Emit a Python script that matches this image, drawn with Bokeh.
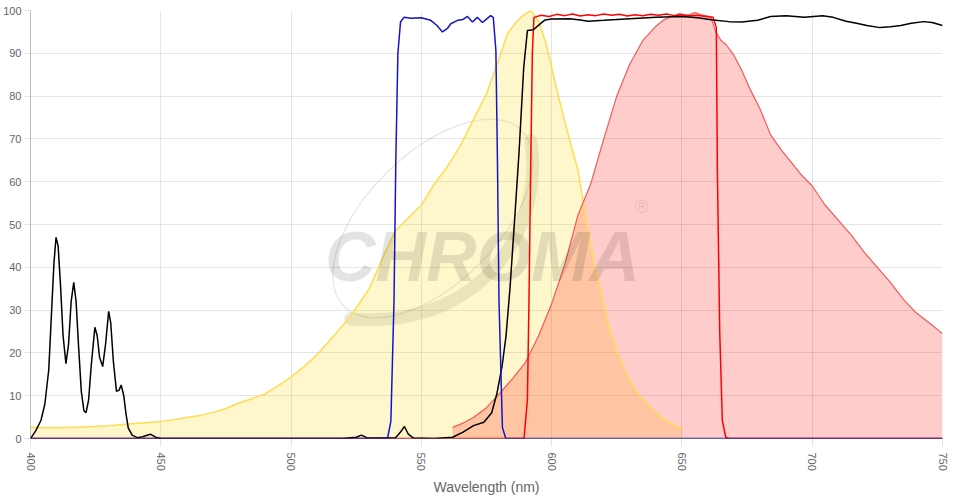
from bokeh.plotting import figure
from bokeh.models import Range1d, FixedTicker, Label
from bokeh.embed import file_html
from bokeh.resources import INLINE

# ---------------- data ----------------
x_ticks = [400, 450, 500, 550, 600, 650, 700, 750]
y_ticks = [0, 10, 20, 30, 40, 50, 60, 70, 80, 90, 100]

# excitation spectrum (yellow)
ex_wl = [400, 405, 410, 420, 430, 440, 450, 455, 460, 465, 470, 475, 480, 485, 490,
         495, 500, 505, 510, 515, 520, 525, 530, 535, 540, 545, 550, 555, 560, 565,
         570, 575, 580, 583, 586, 589, 592, 595, 598, 601, 604, 607, 610, 613, 616,
         619, 622, 625, 628, 631, 634, 637, 640, 643, 646, 650]
ex_val = [2.6, 2.5, 2.5, 2.7, 3.0, 3.5, 4.0, 4.4, 4.9, 5.4, 6.1, 7.0, 8.3, 9.3, 10.4,
          12.3, 14.4, 16.8, 19.6, 23.0, 26.5, 30.5, 35.0, 42.0, 48.5, 51.5, 54.5, 59.5, 63.5, 68.5,
          74.5, 80.5, 89.0, 94.5, 97.0, 98.8, 100.0, 97.5, 92.0, 84.0, 76.5, 69.5, 63.0, 52.0, 42.0,
          34.0, 26.0, 20.5, 16.0, 12.5, 9.8, 7.8, 6.0, 4.6, 3.4, 2.3]

# emission spectrum (red / pink)
em_wl = [562, 566, 570, 575, 580, 585, 590, 595, 600, 605, 610, 615, 620, 625, 630,
         635, 640, 643, 646, 649, 652, 655, 658, 661, 663, 665, 667, 670, 673, 676,
         680, 684, 688, 692, 696, 700, 705, 710, 715, 720, 725, 730, 735, 740, 745, 750]
em_val = [2.6, 3.6, 4.9, 7.2, 10.5, 14.0, 17.8, 24.0, 31.5, 40.5, 52.0, 59.5, 70.0, 80.0, 87.5,
          93.0, 96.3, 97.8, 98.6, 99.3, 98.8, 99.5, 98.9, 98.6, 95.0, 93.0, 92.0, 89.5, 86.0, 81.8,
          77.0, 71.0, 67.5, 64.5, 61.5, 59.0, 54.5, 51.0, 47.5, 43.5, 40.0, 36.5, 32.5, 29.3, 27.0, 24.5]

# dichroic / black curve
bk_wl = [400, 402, 404, 405.5, 407, 408.2, 409, 409.8, 410.6, 411.5, 412.5, 413.6, 414.6, 415.6, 416.6,
         417.5, 418.5, 419.5, 420.5, 421.3, 422.3, 423.3, 424.7, 425.6, 426.5, 427.7, 428.8, 430, 430.8, 431.8,
         433, 434, 434.8, 435.8, 436.6, 437.5, 439, 441, 443, 446, 448, 450, 520, 525, 527,
         529, 540, 542, 543.5, 545, 547, 555, 562, 566, 570, 574, 577, 579, 581, 582.5,
         584, 586, 587.5, 589.3, 590.7, 593, 595.8, 597.5, 600, 607, 611, 614, 620, 630, 640,
         650, 656, 662, 668, 673, 679, 684, 690, 697, 704, 708, 713, 717, 721, 726,
         730, 734, 738, 742.8, 746, 750]
bk_val = [0, 1.8, 4.2, 8, 16, 31, 41, 47, 45, 36, 24, 17.5, 22, 32, 36.5,
          32, 21, 11, 6.5, 6, 9, 17, 26, 24, 19, 16.8, 22, 29.7, 27, 18,
          11, 11.3, 12.5, 10, 6, 2.5, 0.8, 0.2, 0.4, 1.0, 0.3, 0, 0, 0.3, 0.8,
          0.2, 0.1, 1.5, 2.8, 1.0, 0.1, 0, 0.3, 1.5, 3, 3.8, 6, 10.5, 17, 24,
          35, 53, 67, 86.8, 95.3, 95.5, 97, 97.8, 98, 98.1, 97.8, 97.5, 97.7, 98.1, 98.4,
          98.6, 98.3, 97.8, 97.4, 97.3, 97.7, 98.6, 98.8, 98.4, 98.8, 98.4, 97.5, 97, 96.5, 96,
          96.2, 96.5, 97, 97.4, 97.2, 96.5]

# excitation filter (blue)
bf_wl = [400, 537, 538.3, 539.5, 540.2, 541, 542, 543.3, 546, 550, 553.6, 556, 558.1, 560, 561.3,
         563.9, 566, 567.7, 569.6, 571.5, 573.4, 575, 576.6, 577.6, 578.6, 579.2, 579.8, 581.1, 582.4, 750]
bf_val = [0, 0, 4, 32, 65, 90, 97.3, 98.4, 98.2, 98.3, 97.7, 96.5, 95, 95.8, 96.9,
          97.7, 97.9, 98.6, 97.3, 98.4, 97.2, 98, 98.8, 98.4, 90.7, 65, 32, 2.6, 0, 0]

# emission filter (red)
rf_wl = [400, 589.4, 590.7, 591.3, 592, 592.6, 593.2, 596, 599, 602, 605, 608, 611, 614, 617,
         620, 623, 626, 629, 632, 635, 638, 641, 644, 647, 650, 653, 656, 659, 662,
         663.2, 663.6, 664.5, 665.5, 666.8, 668, 750]
rf_val = [0, 0, 9, 32, 65, 90, 98.4, 98.9, 98.6, 99.1, 98.8, 99.2, 98.7, 99.0, 98.8,
          99.2, 98.9, 99.1, 98.7, 99.0, 98.8, 99.1, 98.9, 99.2, 98.8, 99.0, 98.8, 98.9, 98.6, 98.4,
          96, 63, 25, 4.2, 0.3, 0, 0]

x_title = "Wavelength (nm)"
logo_text = "CHROMA"

# ---------------- figure ----------------
p = figure(width=949, height=497, x_range=Range1d(400, 750), y_range=Range1d(0, 100),
           output_backend="svg", toolbar_location=None,
           min_border_left=0, min_border_right=7, min_border_top=10, min_border_bottom=0)
p.outline_line_color = None
p.background_fill_color = "white"
p.border_fill_color = "white"

# watermark (decorative)
p.ellipse(x=[554.4], y=[51.4], width=[250], height=[130], angle=[0.78],
          width_units="screen", height_units="screen",
          fill_color=None, line_color="#000000", line_alpha=0.09, line_width=1.5)
p.bezier(x0=[522.9], y0=[28.0], x1=[592.0], y1=[69.6], cx0=[569.0], cy0=[25.2],
         cx1=[597.7], cy1=[46.7], line_color="#000000", line_alpha=0.09, line_width=13,
         line_cap="round")
p.add_layout(Label(x=513, y=42.3, text=logo_text, text_font="Liberation Sans",
                   text_font_size="70px", text_font_style="bold italic",
                   text_color="#000000", text_alpha=0.11, text_baseline="alphabetic"))
p.add_layout(Label(x=632, y=54, text="\u00ae", text_font="Liberation Sans",
                   text_font_size="18px", text_color="#000000", text_alpha=0.11,
                   text_baseline="middle"))

# fills
p.varea(x=ex_wl, y1=0, y2=ex_val, fill_color="#ffd700", fill_alpha=0.2)
p.varea(x=em_wl, y1=0, y2=em_val, fill_color="#ff0000", fill_alpha=0.2)

# lines
p.line(ex_wl, ex_val, line_color="#ffdc50", line_width=1.5)
p.line(em_wl, em_val, line_color="#f05a5a", line_width=1.2)
p.line(rf_wl, rf_val, line_color="#ff0000", line_width=1.5)
p.line(bk_wl, bk_val, line_color="#000000", line_width=1.5)
p.line(bf_wl, bf_val, line_color="#1414cc", line_width=1.5)

# axes
for ax in (p.xaxis[0], p.yaxis[0]):
    ax.major_label_text_font = "Liberation Sans"
    ax.major_label_text_font_size = "11px"
    ax.major_label_text_color = "#666666"
    ax.minor_tick_line_color = None
    ax.major_tick_line_color = "#000000"
    ax.major_tick_line_alpha = 0.1
    ax.major_tick_in = 0
    ax.axis_line_color = "#000000"
    ax.axis_line_alpha = 0.25

p.xaxis.ticker = FixedTicker(ticks=x_ticks)
p.yaxis.ticker = FixedTicker(ticks=y_ticks)
p.xaxis.major_label_orientation = "vertical"
p.xaxis.major_tick_out = 8
p.xaxis.major_label_standoff = 6
p.yaxis.major_tick_out = 6
p.yaxis.major_label_standoff = 3

p.xaxis.axis_label = x_title
p.xaxis.axis_label_text_font = "Liberation Sans"
p.xaxis.axis_label_text_font_size = "14px"
p.xaxis.axis_label_text_font_style = "normal"
p.xaxis.axis_label_text_color = "#666666"
p.xaxis.axis_label_standoff = 5

p.xgrid.ticker = FixedTicker(ticks=x_ticks)
p.ygrid.ticker = FixedTicker(ticks=y_ticks)
p.grid.grid_line_color = "#000000"
p.grid.grid_line_alpha = 0.1

open("out.html", "w").write(file_html(p, INLINE))
